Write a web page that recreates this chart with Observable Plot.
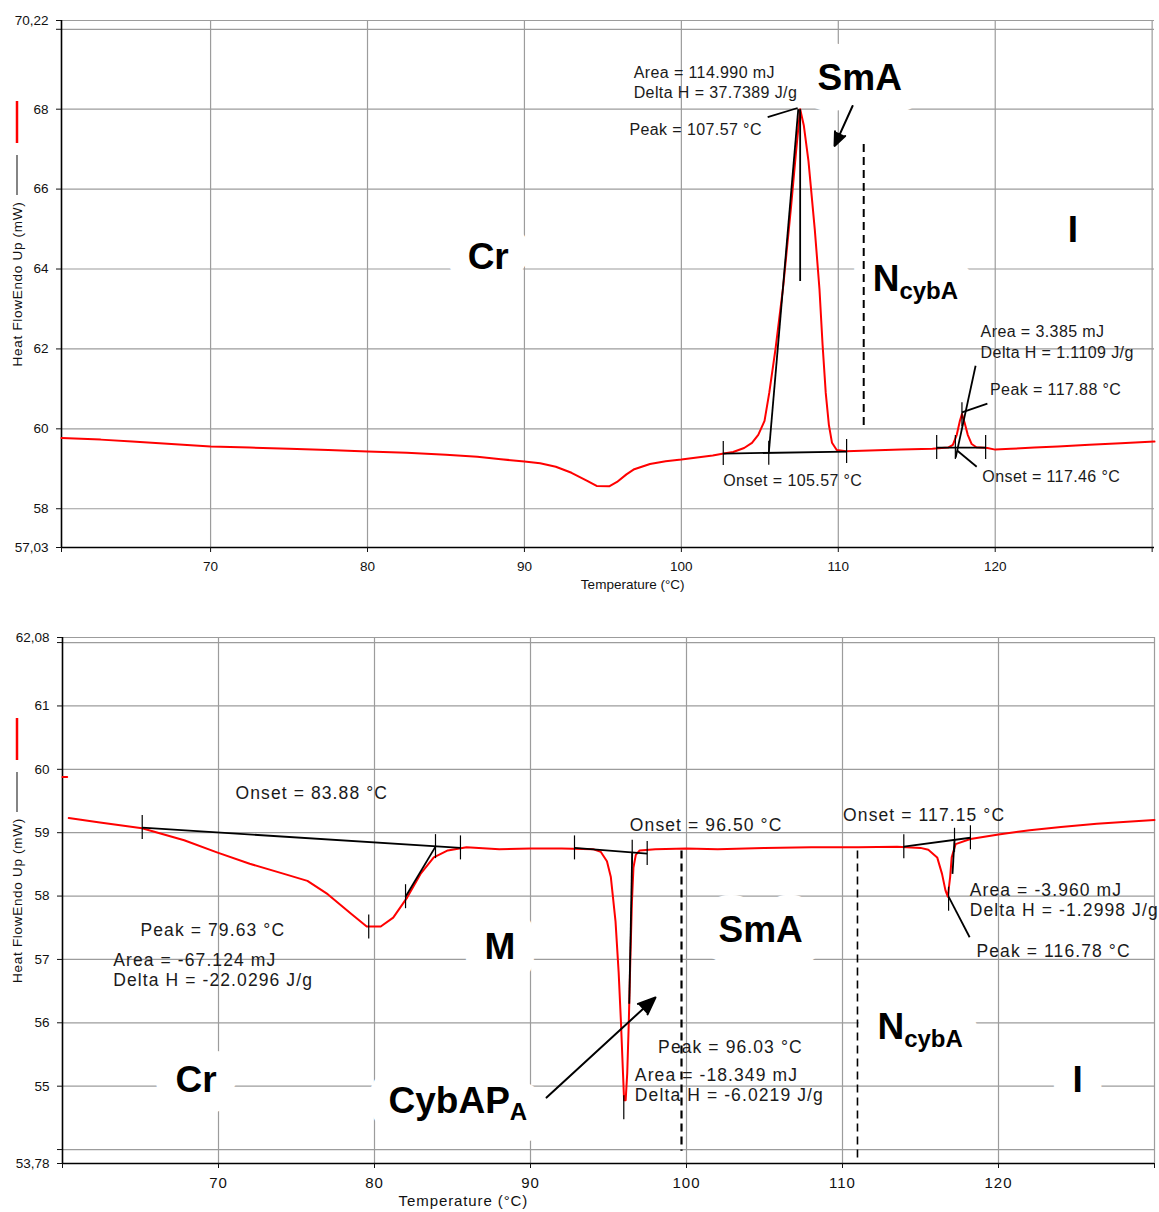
<!DOCTYPE html>
<html><head><meta charset="utf-8">
<script src="https://cdn.jsdelivr.net/npm/d3@7"></script>
<script src="https://cdn.jsdelivr.net/npm/@observablehq/plot@0.6"></script>
<style>body{margin:0;background:#fff} svg{display:block}</style>
</head><body><div id="chart"></div>
<script>
// ---------------- DATA ----------------
// Top panel (heating)
const topXDomain = [60.5, 130.15];
const topYDomain = [57.03, 70.22];
const topXTicks = [60.5, 70, 80, 90, 100, 110, 120, 130];
const topXTickLabels = ["", "70", "80", "90", "100", "110", "120", ""];
const topYTicks = [57.03, 58, 60, 62, 64, 66, 68, 70, 70.22];
const topYTickLabels = ["57,03", "58", "60", "62", "64", "66", "68", "", "70,22"];
const topXGrid = [70, 80, 90, 100, 110, 120, 130];
const topYGrid = [58, 60, 62, 64, 66, 68, 70, 70.22];
const topCurve = [[60.5,59.77],[63,59.73],[65,59.68],[67.5,59.62],[70,59.56],[72.5,59.53],[75,59.5],[77.5,59.47],[80,59.43],[82.5,59.4],[85,59.35],[87,59.3],[88.5,59.24],[90,59.18],[91,59.14],[92,59.05],[93,58.9],[94,58.7],[94.6,58.57],[95.4,58.56],[95.9,58.67],[96.5,58.86],[97,58.99],[98,59.12],[99,59.19],[100,59.23],[101,59.28],[102,59.33],[102.7,59.38],[103.3,59.42],[104,59.52],[104.5,59.65],[104.9,59.85],[105.3,60.2],[105.6,60.9],[106,62.0],[106.5,63.6],[107,65.6],[107.3,66.9],[107.57,68.0],[107.8,67.6],[108.1,66.7],[108.5,65.0],[108.8,63.5],[109.0,62.1],[109.2,60.9],[109.4,60.1],[109.6,59.65],[109.9,59.47],[110.5,59.44],[112,59.46],[114,59.48],[116,59.5],[117,59.53],[117.3,59.6],[117.55,59.85],[117.75,60.2],[117.88,60.37],[118.05,60.15],[118.25,59.85],[118.5,59.62],[118.8,59.54],[119.5,59.52],[120,59.48],[121,59.5],[122.5,59.53],[124,59.56],[126,59.6],[128,59.64],[130.15,59.68]];
const topSegments = [
  [102.67,59.38,110.53,59.43],   // integration baseline
  [105.57,59.39,107.45,68.0],    // onset tangent
  [107.57,68.0,107.57,63.7],     // peak line
  [105.5,67.8,107.41,68.03],     // peak leader
  [116.27,59.53,119.39,59.53],   // small baseline
  [117.48,59.28,118.75,61.58],   // small tangent
  [117.88,60.41,119.5,60.63],    // small peak leader
  [117.59,59.45,118.82,59.05]    // small onset leader
];
const topTicks = [[102.67,59.38],[105.57,59.39],[110.53,59.43],[116.27,59.53],[117.46,59.53],[119.39,59.53],[117.88,60.35]];
const topDashed = [[111.62,67.13,60.08,2]];
const topArrows = [[110.91,68.08,109.76,67.08]];
const topNotes = [
  [96.96,68.9,"Area = 114.990 mJ"],
  [96.96,68.4,"Delta H = 37.7389 J/g"],
  [96.69,67.49,"Peak = 107.57 °C"],
  [102.67,58.7,"Onset = 105.57 °C"],
  [119.07,62.43,"Area = 3.385 mJ"],
  [119.07,61.9,"Delta H = 1.1109 J/g"],
  [119.67,60.98,"Peak = 117.88 °C"],
  [119.18,58.8,"Onset = 117.46 °C"]
];
const topPhases = [[86.38,64.29,"Cr"],[108.68,68.78,"SmA"],[112.19,63.75,"N_cybA"],[124.62,64.98,"I"]];
const topXLabelAt = 96.9;

// Bottom panel (cooling)
const botXDomain = [60, 130];
const botYDomain = [53.78, 62.08];
const botXTicks = [60, 70, 80, 90, 100, 110, 120, 130];
const botXTickLabels = ["", "70", "80", "90", "100", "110", "120", ""];
const botYTicks = [53.78, 54, 55, 56, 57, 58, 59, 60, 61, 62, 62.08];
const botYTickLabels = ["53,78", "", "55", "56", "57", "58", "59", "60", "61", "", "62,08"];
const botXGrid = [70, 80, 90, 100, 110, 120, 130];
const botYGrid = [54, 55, 56, 57, 58, 59, 60, 61, 62, 62.08];
const botCurveStart = [[60,59.88],[60.3,59.88]];
const botCurve = [[60.4,59.23],[62.4,59.16],[65.1,59.07],[67.8,58.88],[69.9,58.69],[72,58.51],[74.2,58.35],[75.7,58.24],[77,58.03],[78.5,57.72],[79.5,57.52],[80.4,57.52],[81.2,57.66],[82.1,57.98],[82.95,58.35],[83.8,58.61],[84.7,58.72],[85.9,58.77],[88,58.74],[90,58.75],[92,58.75],[94,58.74],[94.5,58.7],[94.9,58.55],[95.15,58.3],[95.45,57.6],[95.65,56.8],[95.8,56.0],[95.93,55.2],[96.0,54.78],[96.1,54.78],[96.2,55.2],[96.3,56.0],[96.4,57.0],[96.5,57.9],[96.6,58.45],[96.75,58.65],[97,58.72],[98,58.74],[100,58.75],[102,58.74],[105,58.76],[108,58.77],[111,58.77],[113.5,58.78],[115,58.76],[115.5,58.73],[116.07,58.61],[116.38,58.35],[116.6,58.09],[116.75,57.99],[116.9,58.3],[117.0,58.61],[117.25,58.82],[118.2,58.9],[120,58.97],[122,59.04],[124,59.09],[126.3,59.14],[128,59.17],[130,59.2]];
const botSegments = [
  [65.11,59.08,85.51,58.76],
  [83.91,58.78,81.99,57.99],
  [92.82,58.76,97.48,58.67],
  [96.52,58.69,96.33,56.3],
  [113.93,58.78,118.2,58.92],
  [117.18,58.88,117.05,58.35],
  [116.8,57.99,118.15,57.35]
];
const botTicks = [[65.11,59.08],[83.91,58.78],[85.51,58.76],[81.99,57.99],[79.63,57.51],[92.82,58.76],[96.52,58.69],[97.48,58.67],[95.98,54.66],[113.93,58.78],[117.18,58.88],[118.2,58.92],[116.8,57.95]];
const botDashed = [[99.68,58.72,53.98,2.2],[110.96,58.72,53.82,1.6]];
const botArrows = [[91.03,54.82,98.01,56.4]];
const botNotes = [
  [71.09,59.62,"Onset = 83.88 °C"],
  [65.0,57.46,"Peak = 79.63 °C"],
  [63.25,56.98,"Area = -67.124 mJ"],
  [63.25,56.67,"Delta H = -22.0296 J/g"],
  [96.37,59.12,"Onset = 96.50 °C"],
  [98.18,55.61,"Peak = 96.03 °C"],
  [96.69,55.17,"Area = -18.349 mJ"],
  [96.69,54.85,"Delta H = -6.0219 J/g"],
  [110.04,59.27,"Onset = 117.15 °C"],
  [118.16,58.09,"Area = -3.960 mJ"],
  [118.16,57.77,"Delta H = -1.2998 J/g"],
  [118.59,57.12,"Peak = 116.78 °C"]
];
const botPhases = [[87.05,57.2,"M"],[102.05,57.46,"SmA"],[67.24,55.09,"Cr"],[80.9,54.77,"CybAP_A"],[112.24,55.93,"N_cybA"],[124.74,55.09,"I"]];
const botXLabelAt = 85.7;

const yLabel = "Heat FlowEndo Up (mW)";
const xLabel = "Temperature (°C)";

// ---------------- RENDER ----------------
const FONT = "'Liberation Sans', Arial, Helvetica, sans-serif";
const GRID = "#9c9c9c";
const pts = a => a.map(([T, V]) => ({T, V}));
const segs = a => a.map(([x1, y1, x2, y2]) => ({x1, y1, x2, y2}));

function panel(c) {
  const xl = new Map(c.xTicks.map((t, i) => [t, c.xTickLabels[i]]));
  const yl = new Map(c.yTicks.map((t, i) => [t, c.yTickLabels[i]]));
  const phases = c.phases.map(([T, V, label]) => ({T, V, label}));
  const notes = c.notes.map(([T, V, label]) => ({T, V, label}));
  const ticks = pts(c.ticks);
  const dashed = c.dashed.map(([T, V1, V2, w]) => ({T, V1, V2, w}));
  const svg = Plot.plot({
    width: 1159, height: c.height,
    marginLeft: c.ml, marginRight: 5, marginTop: c.mt, marginBottom: c.mb,
    style: {fontFamily: FONT, background: "white", color: "#111", overflow: "visible"},
    x: {domain: c.xDomain},
    y: {domain: c.yDomain},
    marks: [
      Plot.ruleY(c.yGrid, {stroke: GRID, strokeWidth: 1.2}),
      Plot.ruleX(c.xGrid, {stroke: GRID, strokeWidth: 1.2}),
      Plot.text(phases, {x: "T", y: "V", text: "label", textAnchor: "start", fontSize: 37, fontWeight: "bold",
        fill: "white", stroke: "white", strokeWidth: 42, strokeLinejoin: "round"}),
      Plot.ruleX([c.xDomain[0]], {stroke: "black", strokeWidth: 1.6}),
      Plot.ruleY([c.yDomain[0]], {stroke: "black", strokeWidth: 1.6}),
      Plot.axisX({ticks: c.xTicks, tickFormat: d => xl.get(d) ?? "", tickSize: 5, tickPadding: 9, fontSize: c.xTickFont[0], label: null}),
      Plot.axisY({ticks: c.yTicks, tickFormat: d => yl.get(d) ?? "", tickSize: 5, tickPadding: 8, fontSize: 13.5, label: null}),
      Plot.link(dashed, {x1: "T", x2: "T", y1: "V1", y2: "V2", stroke: "black", strokeWidth: "w", strokeDasharray: "8,5"}),
      ...c.curves.map(cv => Plot.line(pts(cv), {x: "T", y: "V", stroke: "#ff0000", strokeWidth: 2})),
      Plot.link(segs(c.segments), {x1: "x1", y1: "y1", x2: "x2", y2: "y2", stroke: "black", strokeWidth: 1.8}),
      Plot.ruleX(ticks, {x: "T", y1: "V", y2: "V", insetTop: -12, insetBottom: -12, stroke: "black", strokeWidth: 1.2}),
      Plot.arrow(segs(c.arrows), {x1: "x1", y1: "y1", x2: "x2", y2: "y2", stroke: "black", strokeWidth: 2, headLength: 14, headAngle: 45}),
      Plot.text(notes, {x: "T", y: "V", text: "label", textAnchor: "start", fontSize: c.noteFont[0], fill: "#1a1a1a"}),
      Plot.text(phases, {x: "T", y: "V", text: "label", textAnchor: "start", fontSize: 37, fontWeight: "bold", fill: "black"}),
      Plot.text([yLabel], {frameAnchor: "left", textAnchor: "middle", dx: 17 - c.ml, rotate: -90, fontSize: 13.5, fill: "#111"}),
      Plot.text([{T: c.xLabelAt}], {x: "T", text: () => xLabel, frameAnchor: "bottom", dy: c.xLabelDy, fontSize: c.xLabelFont[0], fill: "#111"})
    ]
  });
  const s = d3.select(svg);
  s.selectAll("text").each(function () {
    const t = this.textContent;
    if (t.includes("_") && this.childElementCount === 0) {
      const [a, b] = t.split("_");
      const el = d3.select(this);
      el.text(null);
      el.append("tspan").text(a);
      el.append("tspan").attr("font-size", 24).attr("dy", "0.32em").text(b);
    }
    if (t.includes(" = ")) d3.select(this).style("letter-spacing", c.noteFont[1] + "px");
    if (t === yLabel) d3.select(this).style("letter-spacing", "0.7px");
    if (t === xLabel) d3.select(this).style("letter-spacing", c.xLabelFont[1] + "px");
  });
  s.selectAll('g[aria-label="x-axis tick label"] text').style("letter-spacing", c.xTickFont[1] + "px");
  // fill the arrow heads
  s.selectAll('g[aria-label="arrow"] path').attr("fill", "black");
  // series legend swatches beside the y label
  const [r1, r2, g1, g2] = c.legend;
  s.append("line").attr("x1", 17).attr("x2", 17).attr("y1", r1).attr("y2", r2).attr("stroke", "#ff0000").attr("stroke-width", 2.5);
  s.append("line").attr("x1", 17).attr("x2", 17).attr("y1", g1).attr("y2", g2).attr("stroke", "#333").attr("stroke-width", 1.2);
  return svg;
}

const root = document.getElementById("chart");
root.append(panel({
  height: 610, ml: 61, mt: 20, mb: 63,
  xDomain: topXDomain, yDomain: topYDomain, xTicks: topXTicks, xTickLabels: topXTickLabels,
  yTicks: topYTicks, yTickLabels: topYTickLabels, xGrid: topXGrid, yGrid: topYGrid,
  curves: [topCurve], segments: topSegments, ticks: topTicks, dashed: topDashed, arrows: topArrows,
  notes: topNotes, phases: topPhases, xLabelAt: topXLabelAt, xLabelDy: 41, legend: [101, 143, 155, 195],
  noteFont: [16, 0.4], xTickFont: [13.5, 0], xLabelFont: [13.5, 0]
}));
root.append(panel({
  height: 602, ml: 62, mt: 27, mb: 49,
  xDomain: botXDomain, yDomain: botYDomain, xTicks: botXTicks, xTickLabels: botXTickLabels,
  yTicks: botYTicks, yTickLabels: botYTickLabels, xGrid: botXGrid, yGrid: botYGrid,
  curves: [botCurveStart, botCurve], segments: botSegments, ticks: botTicks, dashed: botDashed, arrows: botArrows,
  notes: botNotes, phases: botPhases, xLabelAt: botXLabelAt, xLabelDy: 42, legend: [108, 150, 162, 202],
  noteFont: [17.5, 1.1], xTickFont: [15, 1], xLabelFont: [15, 0.9]
}));
</script></body></html>
